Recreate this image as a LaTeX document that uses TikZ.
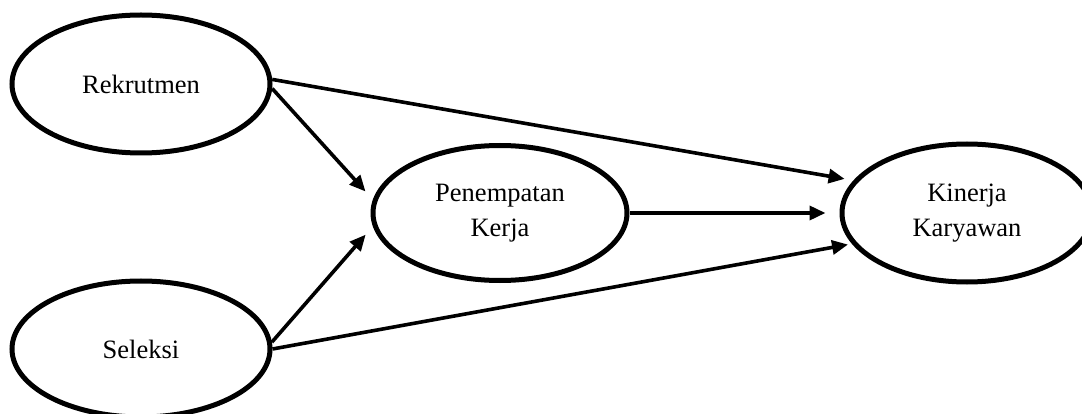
\documentclass[tikz,border=0pt]{standalone}
\usepackage{fontspec}
\setmainfont{Liberation Serif}
\usetikzlibrary{shapes.geometric,arrows.meta}
\begin{document}
\begin{tikzpicture}[x=1pt,y=-1pt,
  var/.style={ellipse,draw,line width=5pt,inner sep=0pt,align=center,
    font=\fontsize{26.5}{35}\selectfont},
  link/.style={line width=3.6pt,-{Triangle[length=16pt,width=14pt]}}]
\useasboundingbox (0,0) rectangle (1082,414);
\clip (0,0) rectangle (1082,414);
\node[var,minimum width=258pt,minimum height=138pt] (rek) at (141,84) {Rekrutmen};
\node[var,minimum width=254pt,minimum height=135pt] (pen) at (500,213) {Penempatan\\Kerja};
\node[var,minimum width=250pt,minimum height=138pt] (kin) at (967,213) {Kinerja\\Karyawan};
\node[var,minimum width=258pt,minimum height=136pt] (sel) at (141,349) {Seleksi};
\draw[link,shorten >=9pt] (rek.2) -- (kin.164);
\draw[link,shorten >=11pt] (rek.-2) -- (pen.174);
\draw[link,shorten >=11pt] (sel.3) -- (pen.186);
\draw[link,shorten >=4pt] (sel.0) -- (kin.195.5);
\draw[link,shorten >=14pt] (pen) -- (kin);
\end{tikzpicture}
\end{document}
